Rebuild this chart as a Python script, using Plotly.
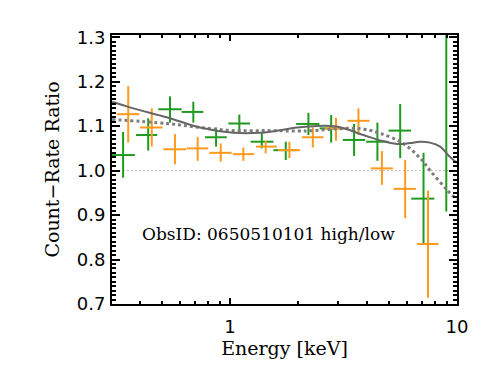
import math
import plotly.graph_objects as go

# ---- data ----
g_E = [0.338, 0.436, 0.544, 0.689, 0.868, 1.099, 1.38, 1.76, 2.215, 2.79, 3.52, 4.46, 5.62, 7.12, 8.97]
g_Elo = [0.30, 0.385, 0.483, 0.612, 0.776, 0.983, 1.233, 1.553, 1.955, 2.48, 3.14, 3.98, 4.99, 6.29, 7.94]
g_Ehi = [0.381, 0.478, 0.612, 0.763, 0.967, 1.225, 1.553, 1.97, 2.477, 3.11, 3.94, 4.99, 6.27, 7.94, 10.1]
g_R = [1.035, 1.080, 1.138, 1.132, 1.075, 1.106, 1.065, 1.046, 1.105, 1.095, 1.069, 1.065, 1.090, 0.937, 1.36]
g_Rhi = [1.087, 1.1175, 1.167, 1.155, 1.097, 1.126, 1.084, 1.065, 1.130, 1.125, 1.105, 1.108, 1.150, 1.040, 1.80]
g_Rlo = [0.984, 1.045, 1.108, 1.108, 1.054, 1.087, 1.050, 1.024, 1.080, 1.063, 1.033, 1.022, 1.028, 0.835, 0.908]

o_E = [0.356, 0.452, 0.572, 0.72, 0.91, 1.145, 1.436, 1.827, 2.316, 2.93, 3.68, 4.67, 5.91, 7.45]
o_Elo = [0.318, 0.401, 0.508, 0.644, 0.810, 1.028, 1.302, 1.628, 2.072, 2.624, 3.29, 4.17, 5.25, 6.66]
o_Ehi = [0.399, 0.505, 0.640, 0.802, 1.017, 1.276, 1.607, 2.036, 2.58, 3.27, 4.12, 5.22, 6.59, 8.29]
o_R = [1.127, 1.097, 1.048, 1.050, 1.040, 1.037, 1.054, 1.046, 1.075, 1.095, 1.112, 1.005, 0.959, 0.835]
o_Rhi = [1.19, 1.140, 1.082, 1.076, 1.061, 1.052, 1.067, 1.065, 1.097, 1.119, 1.140, 1.044, 1.024, 0.955]
o_Rlo = [1.063, 1.054, 1.014, 1.022, 1.020, 1.022, 1.039, 1.028, 1.052, 1.067, 1.080, 0.968, 0.893, 0.714]

solid_E = [0.3026, 0.3747, 0.526, 0.737, 1.034, 1.356, 1.662, 1.969, 2.33, 2.95, 3.87, 4.58, 5.43, 6.2, 6.88, 7.6, 8.43, 9.3, 10.0]
solid_R = [1.155, 1.140, 1.120, 1.097, 1.085, 1.085, 1.091, 1.097, 1.100, 1.099, 1.080, 1.068, 1.060, 1.062, 1.065, 1.063, 1.054, 1.031, 1.017]

dot_E = [0.3026, 0.526, 0.737, 1.03, 1.45, 1.97, 2.33, 3.27, 3.9, 4.58, 5.79, 6.88, 7.62, 9.02, 10.0]
dot_R = [1.115, 1.106, 1.097, 1.090, 1.090, 1.089, 1.090, 1.095, 1.093, 1.084, 1.061, 1.028, 1.000, 0.957, 0.934]

unity = 1.0
x_ticks = [1, 10]
x_minor = [0.4, 0.5, 0.6, 0.7, 0.8, 0.9, 2, 3, 4, 5, 6, 7, 8, 9]
y_ticks = [0.7, 0.8, 0.9, 1.0, 1.1, 1.2, 1.3]
label_text = "ObsID: 0650510101 high/low"

GREEN = "#1f9a1f"
ORANGE = "#ff9a1e"

fig = go.Figure()

fig.add_trace(go.Scatter(x=[0.3, 10], y=[unity, unity], mode="lines",
                         line=dict(color="#8a8a8a", width=1, dash="1px,3px"),
                         hoverinfo="skip", showlegend=False))

def cross(E, Elo, Ehi, R, Rlo, Rhi, color):
    return go.Scatter(
        x=E, y=R, mode="markers", marker=dict(size=0.1, color=color, opacity=0),
        error_x=dict(type="data", symmetric=False,
                     array=[h - e for h, e in zip(Ehi, E)],
                     arrayminus=[e - l for l, e in zip(Elo, E)],
                     color=color, thickness=2, width=0),
        error_y=dict(type="data", symmetric=False,
                     array=[h - r for h, r in zip(Rhi, R)],
                     arrayminus=[r - l for l, r in zip(Rlo, R)],
                     color=color, thickness=2, width=0),
        showlegend=False, cliponaxis=True)

fig.add_trace(cross(g_E, g_Elo, g_Ehi, g_R, g_Rlo, g_Rhi, GREEN))
fig.add_trace(cross(o_E, o_Elo, o_Ehi, o_R, o_Rlo, o_Rhi, ORANGE))

fig.add_trace(go.Scatter(x=dot_E, y=dot_R, mode="lines",
                         line=dict(color="#7d7d7d", width=3, dash="dot", shape="spline", smoothing=1.0),
                         showlegend=False))
fig.add_trace(go.Scatter(x=solid_E, y=solid_R, mode="lines",
                         line=dict(color="#666666", width=2, shape="spline", smoothing=1.0),
                         showlegend=False))

fig.add_annotation(x=0.08, y=0.26, xref="paper", yref="paper", xanchor="left", yanchor="middle",
                   text=label_text, showarrow=False,
                   font=dict(family="DejaVu Serif", size=17, color="black"))

tick_font = dict(family="DejaVu Sans", size=18, color="black")
title_font = dict(family="DejaVu Serif", size=19, color="black")

fig.update_xaxes(type="log", range=[math.log10(0.302), 1.0], automargin=False,
                 tickmode="array", tickvals=x_ticks, ticktext=[str(v) for v in x_ticks],
                 ticks="inside", ticklen=6, tickwidth=1.5, tickcolor="black",
                 minor=dict(tickmode="array", tickvals=x_minor, ticks="inside", ticklen=3,
                            tickwidth=1.5, tickcolor="black", showgrid=False),
                 showline=True, linecolor="black", linewidth=2, mirror="allticks",
                 showgrid=False, zeroline=False, tickfont=tick_font,
                 ticklabelstandoff=5,
                 title=dict(text="Energy [keV]", font=title_font, standoff=4))

fig.update_yaxes(range=[0.7, 1.305], automargin=False,
                 tickmode="array", tickvals=y_ticks, ticktext=[f"{v:.1f}" for v in y_ticks],
                 ticks="inside", ticklen=8, tickwidth=1.5, tickcolor="black",
                 minor=dict(dtick=0.01, tick0=0.7, ticks="inside", ticklen=4,
                            tickwidth=1.5, tickcolor="black", showgrid=False),
                 showline=True, linecolor="black", linewidth=2, mirror="allticks",
                 showgrid=False, zeroline=False, tickfont=tick_font,
                 ticklabelstandoff=1,
                 title=dict(text="Count\u2212Rate Ratio", font=title_font, standoff=12))

fig.update_layout(width=483, height=369,
                  margin=dict(l=104, r=34, t=27, b=73),
                  paper_bgcolor="white", plot_bgcolor="white")

fig.write_html("out.html")
